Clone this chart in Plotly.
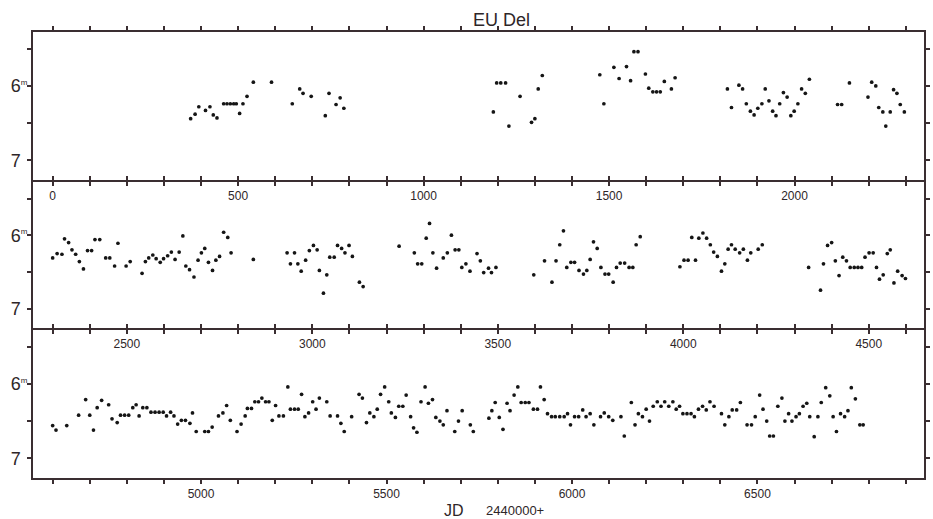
import plotly.graph_objects as go

# ---------------- data (JD - 2440000, visual magnitude) ----------------
jd1 = [372, 384, 394, 412, 424, 433, 443, 461, 470, 479, 488, 495, 504, 513, 524, 541, 590,
       646, 666, 675, 697, 735, 745, 764, 775, 785,
       1188, 1197, 1208, 1221, 1230, 1260, 1291, 1300, 1309, 1320,
       1475, 1486, 1513, 1527, 1547, 1558, 1567, 1578, 1598, 1607, 1618, 1628, 1638, 1649, 1668, 1678,
       1819, 1830, 1850, 1860, 1870, 1881, 1891, 1901, 1912, 1921, 1931, 1941, 1950, 1960, 1970, 1980,
       1990, 1999, 2009, 2019, 2029, 2040, 2116, 2127, 2148, 2198, 2208, 2219, 2227, 2238, 2246,
       2258, 2267, 2276, 2285, 2296]
mag1 = [6.44, 6.38, 6.28, 6.33, 6.28, 6.39, 6.43, 6.24, 6.24, 6.24, 6.24, 6.24, 6.37, 6.24, 6.14, 5.95, 5.95,
        6.24, 6.04, 6.10, 6.14, 6.40, 6.10, 6.25, 6.16, 6.30,
        6.35, 5.96, 5.96, 5.96, 6.54, 6.14, 6.49, 6.44, 6.04, 5.86,
        5.85, 6.24, 5.75, 5.90, 5.74, 5.93, 5.54, 5.54, 5.84, 6.03, 6.08, 6.08, 6.08, 5.94, 6.04, 5.89,
        6.04, 6.29, 5.99, 6.04, 6.24, 6.34, 6.39, 6.30, 6.24, 6.04, 6.20, 6.34, 6.40, 6.24, 6.09, 6.15,
        6.40, 6.34, 6.24, 6.04, 6.10, 5.91, 6.25, 6.25, 5.96, 6.15, 5.95, 6.00, 6.29, 6.35, 6.54,
        6.35, 6.05, 6.10, 6.25, 6.35]

jd2 = [2300, 2312, 2325, 2332, 2343, 2352, 2362, 2372, 2383, 2394, 2405, 2414, 2427, 2443, 2454, 2467,
       2476, 2498, 2509, 2541, 2550, 2559, 2570, 2579, 2590, 2599, 2610, 2620, 2630, 2641, 2651, 2659,
       2669, 2681, 2692, 2701, 2710, 2720, 2731, 2740, 2750, 2761, 2772, 2781, 2841,
       2932, 2941, 2952, 2961, 2970, 2982, 2992, 3003, 3013, 3019, 3030, 3039, 3047, 3059, 3068, 3079,
       3088, 3099, 3108, 3127, 3137, 3234, 3275, 3284, 3295, 3307, 3316, 3325, 3335, 3353, 3364, 3375,
       3385, 3395, 3403, 3414, 3425, 3444, 3453, 3462, 3475, 3483, 3495,
       3597, 3626, 3646, 3657, 3667, 3677, 3686, 3697, 3707, 3719, 3731, 3740, 3749, 3758, 3768, 3778,
       3789, 3799, 3811, 3820, 3830, 3842, 3854, 3864, 3873, 3884,
       3991, 4002, 4013, 4023, 4033, 4042, 4053, 4063, 4073, 4082, 4092, 4103, 4112, 4121, 4130, 4140,
       4152, 4162, 4173, 4182, 4202, 4213,
       4338, 4370, 4378, 4389, 4400, 4410, 4420, 4430, 4440, 4450, 4461, 4471, 4481, 4490, 4501, 4512,
       4521, 4529, 4539, 4550, 4558, 4568, 4578, 4590, 4599]
mag2 = [6.31, 6.25, 6.26, 6.05, 6.10, 6.20, 6.26, 6.36, 6.46, 6.21, 6.21, 6.06, 6.06, 6.31, 6.31, 6.42,
        6.11, 6.42, 6.36, 6.52, 6.36, 6.31, 6.27, 6.32, 6.37, 6.32, 6.28, 6.23, 6.33, 6.23, 6.01, 6.42,
        6.47, 6.57, 6.34, 6.24, 6.18, 6.37, 6.48, 6.34, 6.29, 5.96, 6.03, 6.24, 6.33,
        6.24, 6.39, 6.24, 6.39, 6.49, 6.34, 6.21, 6.14, 6.20, 6.48, 6.79, 6.54, 6.30, 6.30, 6.14, 6.18,
        6.24, 6.14, 6.29, 6.64, 6.70, 6.15, 6.24, 6.39, 6.39, 6.04, 5.84, 6.24, 6.45, 6.31, 6.24, 6.00,
        6.20, 6.20, 6.44, 6.39, 6.49, 6.25, 6.35, 6.51, 6.45, 6.51, 6.44,
        6.54, 6.35, 6.64, 6.35, 6.13, 5.94, 6.44, 6.37, 6.37, 6.48, 6.53, 6.48, 6.33, 6.09, 6.18, 6.44,
        6.53, 6.53, 6.64, 6.44, 6.38, 6.38, 6.44, 6.44, 6.13, 6.02,
        6.43, 6.34, 6.34, 6.03, 6.34, 6.04, 5.97, 6.04, 6.13, 6.23, 6.29, 6.49, 6.39, 6.19, 6.13, 6.19,
        6.24, 6.19, 6.34, 6.24, 6.19, 6.13,
        6.44, 6.75, 6.39, 6.14, 6.10, 6.35, 6.55, 6.30, 6.35, 6.44, 6.44, 6.44, 6.44, 6.30, 6.24, 6.24,
        6.44, 6.60, 6.54, 6.25, 6.20, 6.65, 6.49, 6.55, 6.59]

jd3 = [4600, 4609, 4638, 4670, 4689, 4700, 4710, 4720, 4732, 4751, 4760, 4774, 4783, 4794, 4805, 4816,
       4825, 4833, 4843, 4854, 4865, 4876, 4887, 4898, 4907, 4918, 4927, 4937, 4947, 4958, 4970, 4977,
       4987, 5010, 5020, 5030, 5047, 5059, 5069, 5079, 5097, 5108, 5119, 5125, 5136, 5145, 5155, 5164,
       5174, 5183, 5192, 5201, 5210, 5222, 5234, 5241, 5252, 5262, 5271, 5280, 5290, 5301, 5310, 5319,
       5339, 5348, 5368, 5377, 5386, 5406, 5426, 5435, 5446, 5455, 5466, 5475, 5484, 5495, 5506, 5513,
       5524, 5533, 5544, 5553, 5565, 5573, 5582, 5593, 5604, 5613, 5624, 5633, 5644, 5653, 5663, 5684,
       5694, 5704, 5726, 5734, 5776, 5784, 5793, 5804, 5814, 5825, 5833, 5844, 5854, 5863, 5874, 5884,
       5896, 5907, 5915, 5925, 5934, 5945, 5955, 5967, 5979, 5988, 5996, 6007, 6018, 6029, 6038, 6049,
       6059, 6077, 6087, 6099, 6110, 6132, 6141, 6160, 6170, 6179, 6190, 6200, 6209, 6219, 6230, 6240,
       6250, 6261, 6272, 6281, 6290, 6299, 6310, 6321, 6330, 6341, 6352, 6362, 6372, 6383, 6403, 6412,
       6423, 6432, 6444, 6454, 6472, 6484, 6494, 6506, 6515, 6525, 6533, 6543, 6555, 6566, 6574, 6584,
       6593, 6604, 6613, 6623, 6633, 6641, 6653, 6663, 6672, 6684, 6695, 6704, 6713, 6724, 6735, 6744,
       6753, 6764, 6776, 6785]
mag3 = [6.56, 6.62, 6.56, 6.42, 6.21, 6.42, 6.62, 6.32, 6.22, 6.28, 6.47, 6.52, 6.42, 6.42, 6.42, 6.32,
        6.28, 6.43, 6.32, 6.32, 6.38, 6.38, 6.38, 6.38, 6.43, 6.38, 6.43, 6.54, 6.49, 6.49, 6.53, 6.39,
        6.64, 6.64, 6.64, 6.58, 6.43, 6.39, 6.29, 6.49, 6.64, 6.54, 6.43, 6.33, 6.33, 6.24, 6.24, 6.19,
        6.24, 6.24, 6.49, 6.29, 6.43, 6.43, 6.04, 6.34, 6.34, 6.34, 6.14, 6.44, 6.39, 6.24, 6.34, 6.19,
        6.24, 6.43, 6.43, 6.53, 6.64, 6.44, 6.14, 6.19, 6.52, 6.39, 6.44, 6.34, 6.14, 6.04, 6.24, 6.39,
        6.45, 6.30, 6.30, 6.15, 6.44, 6.59, 6.65, 6.24, 6.04, 6.26, 6.21, 6.45, 6.50, 6.55, 6.36, 6.64,
        6.50, 6.36, 6.55, 6.64, 6.46, 6.36, 6.25, 6.45, 6.61, 6.26, 6.36, 6.15, 6.04, 6.25, 6.25, 6.25,
        6.34, 6.34, 6.04, 6.21, 6.40, 6.44, 6.44, 6.44, 6.44, 6.40, 6.55, 6.44, 6.44, 6.35, 6.44, 6.40,
        6.55, 6.44, 6.39, 6.44, 6.49, 6.44, 6.70, 6.25, 6.55, 6.40, 6.44, 6.34, 6.50, 6.30, 6.24, 6.30,
        6.24, 6.30, 6.24, 6.34, 6.30, 6.40, 6.40, 6.40, 6.44, 6.34, 6.30, 6.35, 6.24, 6.30, 6.40, 6.55,
        6.44, 6.35, 6.35, 6.25, 6.55, 6.55, 6.44, 6.15, 6.34, 6.50, 6.70, 6.70, 6.30, 6.19, 6.50, 6.40,
        6.50, 6.44, 6.40, 6.30, 6.26, 6.44, 6.71, 6.44, 6.25, 6.05, 6.16, 6.44, 6.64, 6.40, 6.44, 6.36,
        6.05, 6.20, 6.55, 6.55]

panel_start = [0, 2300, 4600]          # first tick of each strip
panel_span = 2300
label_step = 500
mag_ticks = [5.5, 6.0, 6.5, 7.0]
SUP = "<sup><span style='font-size:8px'>{}</span></sup>"
mag_labels = ["", "6" + SUP.format("m"), "", "7" + SUP.format("\u00a0\u00a0\u00a0")]
title_text = "EU Del"
xlabel_main = "JD"
xlabel_sub = "2440000+"

# ---------------- figure ----------------
INK = "#2e2628"
LINE = "#3a2e31"
FONT = "Liberation Sans, Arial, sans-serif"

H_PLOT = 446.0
# strips: top-to-bottom pixel spans inside the plot area (2 px gap holds the shared border line)
strip_px = [(0, 148), (150, 296), (298, 446)]
domains = [[(H_PLOT - b) / H_PLOT, (H_PLOT - a) / H_PLOT] for a, b in strip_px]

fig = go.Figure()
series = [(jd1, mag1), (jd2, mag2), (jd3, mag3)]

for i, ((xs, ys), start) in enumerate(zip(series, panel_start)):
    sfx = "" if i == 0 else str(i + 1)
    fig.add_trace(go.Scatter(
        x=xs, y=ys, mode="markers",
        marker=dict(size=3.7, color="#151515"),
        xaxis="x" + sfx, yaxis="y" + sfx, showlegend=False, hoverinfo="x+y"))

    tickvals = list(range(start, start + panel_span + 1, 100))
    ticktext = [str(v) if v % label_step == 0 else "" for v in tickvals]
    fig.layout["xaxis" + sfx] = dict(
        domain=[0, 1], anchor="y" + sfx,
        range=[start - 53, start + 2349],
        tickmode="array", tickvals=tickvals, ticktext=ticktext,
        ticks="outside", ticklen=4, tickwidth=1.5, tickcolor=LINE,
        showline=True, linecolor=LINE, linewidth=2, mirror="ticks",
        showgrid=False, zeroline=False,
        tickfont=dict(family=FONT, size=12, color=INK),
    )
    fig.layout["yaxis" + sfx] = dict(
        domain=domains[i], anchor="x" + sfx,
        range=[7.265, 5.275],
        tickmode="array", tickvals=mag_ticks, ticktext=mag_labels,
        ticks="outside", ticklen=4, tickwidth=1.5, tickcolor=LINE,
        ticklabelstandoff=-4,
        showline=True, linecolor=LINE, linewidth=2, mirror="ticks",
        showgrid=False, zeroline=False,
        tickfont=dict(family=FONT, size=18, color=INK),
    )

fig.add_annotation(text=title_text, xref="paper", yref="paper", x=0.526, y=1.026,
                   xanchor="center", yanchor="middle", showarrow=False,
                   font=dict(family=FONT, size=18, color=INK))
fig.add_annotation(text=xlabel_main, xref="paper", yref="paper", x=0.473, y=-0.073,
                   xanchor="center", yanchor="middle", showarrow=False,
                   font=dict(family=FONT, size=16, color=INK))
fig.add_annotation(text=xlabel_sub, xref="paper", yref="paper", x=0.541, y=-0.073,
                   xanchor="center", yanchor="middle", showarrow=False,
                   font=dict(family=FONT, size=13, color=INK))

fig.update_layout(
    width=933, height=519,
    margin=dict(l=33, r=3, t=32, b=41),
    paper_bgcolor="white", plot_bgcolor="white",
    showlegend=False,
)

fig.write_html("out.html")
